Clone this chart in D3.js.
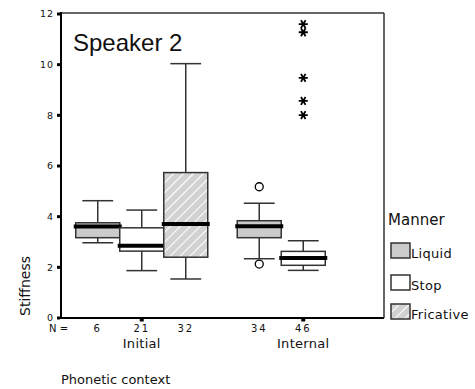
<!DOCTYPE html>
<html>
<head>
<meta charset="utf-8">
<script src="https://cdn.jsdelivr.net/npm/d3@7"></script>
<style>
  body { margin: 0; background: #fff; }
  text { fill: #111; }
</style>
</head>
<body>
<div id="chart"></div>
<script>
'use strict';

// Data
const contexts = ['Initial', 'Internal'];
const manners = ['Liquid', 'Stop', 'Fricative'];

// one entry per drawn box: [context, manner]
const boxGroups = [
    ['Initial', 'Liquid'], ['Initial', 'Stop'], ['Initial', 'Fricative'],
    ['Internal', 'Liquid'], ['Internal', 'Stop']
];
const counts = [6, 21, 32, 34, 46];
const whiskerLow = [2.97, 1.87, 1.54, 2.34, 1.88];
const q1 = [3.17, 2.64, 2.40, 3.17, 2.08];
const medians = [3.61, 2.85, 3.71, 3.62, 2.37];
const q3 = [3.76, 3.56, 5.74, 3.84, 2.63];
const whiskerHigh = [4.63, 4.26, 10.04, 4.53, 3.05];
const outliers = [[], [], [], [5.18, 2.13], []];
const extremes = [[], [], [], [], [11.6, 11.28, 9.48, 8.57, 8.01]];

const yTicks = [0, 2, 4, 6, 8, 10, 12];

/*
Setup
*/
const w = 475, h = 389;
const margin = {top: 13, left: 61, right: 91, bottom: 71};
const plotR = w - margin.right, plotB = h - margin.bottom;

const svg = d3.select('#chart').append('svg')
    .attr('width', w)
    .attr('height', h);

const defs = svg.append('defs');
const hatch = defs.append('pattern')
    .attr('id', 'hatch')
    .attr('patternUnits', 'userSpaceOnUse')
    .attr('width', 7)
    .attr('height', 7)
    .attr('patternTransform', 'rotate(45)');
hatch.append('rect').attr('width', 7).attr('height', 7).attr('fill', '#d2d2d2');
hatch.append('line')
    .attr('x1', 0).attr('y1', 0).attr('x2', 0).attr('y2', 7)
    .attr('stroke', '#fff').attr('stroke-width', 2.2);

const fills = {Liquid: '#cbcbcb', Stop: '#ffffff', Fricative: 'url(#hatch)'};

// Scales
const x = d3.scaleBand().domain(contexts).range([margin.left, plotR]).padding(0);
const xInner = d3.scaleBand().domain(manners).range([0, x.bandwidth()])
    .paddingInner(0).paddingOuter(0.335);
const y = d3.scaleLinear().domain([0, 12]).range([plotB, margin.top + 1]);

const boxX = i => x(boxGroups[i][0]) + xInner(boxGroups[i][1]);
const bw = xInner.bandwidth();
const cx = i => boxX(i) + bw / 2;

// Frame
svg.append('line').attr('x1', margin.left).attr('x2', plotR)
    .attr('y1', margin.top).attr('y2', margin.top)
    .attr('stroke', '#333').attr('stroke-width', 1.5);
svg.append('line').attr('x1', plotR).attr('x2', plotR)
    .attr('y1', margin.top).attr('y2', plotB)
    .attr('stroke', '#333').attr('stroke-width', 1.5);
svg.append('line').attr('x1', margin.left).attr('x2', margin.left)
    .attr('y1', margin.top - 1).attr('y2', plotB + 1)
    .attr('stroke', '#000').attr('stroke-width', 2);
svg.append('line').attr('x1', margin.left - 1).attr('x2', plotR)
    .attr('y1', plotB).attr('y2', plotB)
    .attr('stroke', '#000').attr('stroke-width', 2);

// Y ticks
const yAxisG = svg.append('g');
yTicks.forEach(t => {
    yAxisG.append('rect')
        .attr('x', margin.left - 4).attr('y', y(t) - 1.5)
        .attr('width', 3).attr('height', 3).attr('fill', '#000');
    yAxisG.append('text')
        .attr('x', margin.left - 7).attr('y', y(t))
        .attr('dy', '0.35em')
        .attr('text-anchor', 'end')
        .style('font', '9.5px "DejaVu Sans"')
        .style('letter-spacing', '1px')
        .text(t);
});

// X ticks + labels
contexts.forEach(c => {
    const xc = x(c) + x.bandwidth() / 2;
    svg.append('rect')
        .attr('x', xc - 2).attr('y', plotB)
        .attr('width', 4).attr('height', 3.5).attr('fill', '#000');
    svg.append('text')
        .attr('x', xc).attr('y', 348)
        .attr('text-anchor', 'middle')
        .style('font', '13px "DejaVu Sans"')
        .style('letter-spacing', '0.3px')
        .text(c);
});

// N labels
svg.append('text')
    .attr('x', 49).attr('y', 332)
    .style('font', '10px "DejaVu Sans"')
    .text('N =');
counts.forEach((n, i) => {
    svg.append('text')
        .attr('x', cx(i)).attr('y', 332)
        .attr('text-anchor', 'middle')
        .style('font', '10px "DejaVu Sans"')
        .style('letter-spacing', '2px')
        .text(n);
});

// Boxes
const boxG = svg.append('g');
const star = d3.symbol().type(d3.symbolAsterisk).size(58);
boxGroups.forEach((g, i) => {
    const stroke = '#333';
    const capW = bw * 0.7;
    // whiskers
    boxG.append('line').attr('x1', cx(i)).attr('x2', cx(i))
        .attr('y1', y(whiskerHigh[i])).attr('y2', y(q3[i]))
        .attr('stroke', stroke).attr('stroke-width', 1.5);
    boxG.append('line').attr('x1', cx(i)).attr('x2', cx(i))
        .attr('y1', y(whiskerLow[i])).attr('y2', y(q1[i]))
        .attr('stroke', stroke).attr('stroke-width', 1.5);
    [whiskerHigh[i], whiskerLow[i]].forEach(v => {
        boxG.append('line')
            .attr('x1', cx(i) - capW / 2).attr('x2', cx(i) + capW / 2)
            .attr('y1', y(v)).attr('y2', y(v))
            .attr('stroke', stroke).attr('stroke-width', 1.5);
    });
    // box
    boxG.append('rect')
        .attr('x', boxX(i)).attr('y', y(q3[i]))
        .attr('width', bw).attr('height', y(q1[i]) - y(q3[i]))
        .attr('fill', fills[g[1]])
        .attr('stroke', stroke).attr('stroke-width', 1.5);
    // median
    boxG.append('line')
        .attr('x1', boxX(i) - 2).attr('x2', boxX(i) + bw + 2)
        .attr('y1', y(medians[i])).attr('y2', y(medians[i]))
        .attr('stroke', '#000').attr('stroke-width', 4);
    // outliers
    outliers[i].forEach(v => {
        boxG.append('circle')
            .attr('cx', cx(i)).attr('cy', y(v)).attr('r', 4)
            .attr('fill', '#fff').attr('stroke', '#000').attr('stroke-width', 1.3);
    });
    // extremes
    extremes[i].forEach(v => {
        boxG.append('path')
            .attr('d', star())
            .attr('transform', `translate(${cx(i)},${y(v)}) rotate(90)`)
            .attr('fill', 'none')
            .attr('stroke', '#000')
            .attr('stroke-width', 1.8);
    });
});

// Title inside plot
svg.append('text')
    .attr('x', 73).attr('y', 51)
    .style('font', '24px "Liberation Sans"')
    .text('Speaker 2');

// Axis titles
svg.append('text')
    .attr('transform', 'translate(30,286) rotate(-90)')
    .attr('text-anchor', 'middle')
    .style('font', '14px "DejaVu Sans"')
    .text('Stiffness');
svg.append('text')
    .attr('x', 61).attr('y', 384)
    .style('font', '13px "DejaVu Sans"')
    .text('Phonetic context');

// Legend
const legend = svg.append('g');
legend.append('text')
    .attr('x', 388).attr('y', 225)
    .style('font', '15px "DejaVu Sans"')
    .text('Manner');
const legendY = [243, 275, 304];
manners.forEach((m, i) => {
    legend.append('rect')
        .attr('x', 391).attr('y', legendY[i])
        .attr('width', 19).attr('height', 15)
        .attr('fill', fills[m])
        .attr('stroke', '#333').attr('stroke-width', 1.5);
    legend.append('text')
        .attr('x', 411).attr('y', legendY[i] + 15)
        .style('font', '13px "DejaVu Sans"')
        .style('letter-spacing', '0.3px')
        .text(m);
});
</script>
</body>
</html>
